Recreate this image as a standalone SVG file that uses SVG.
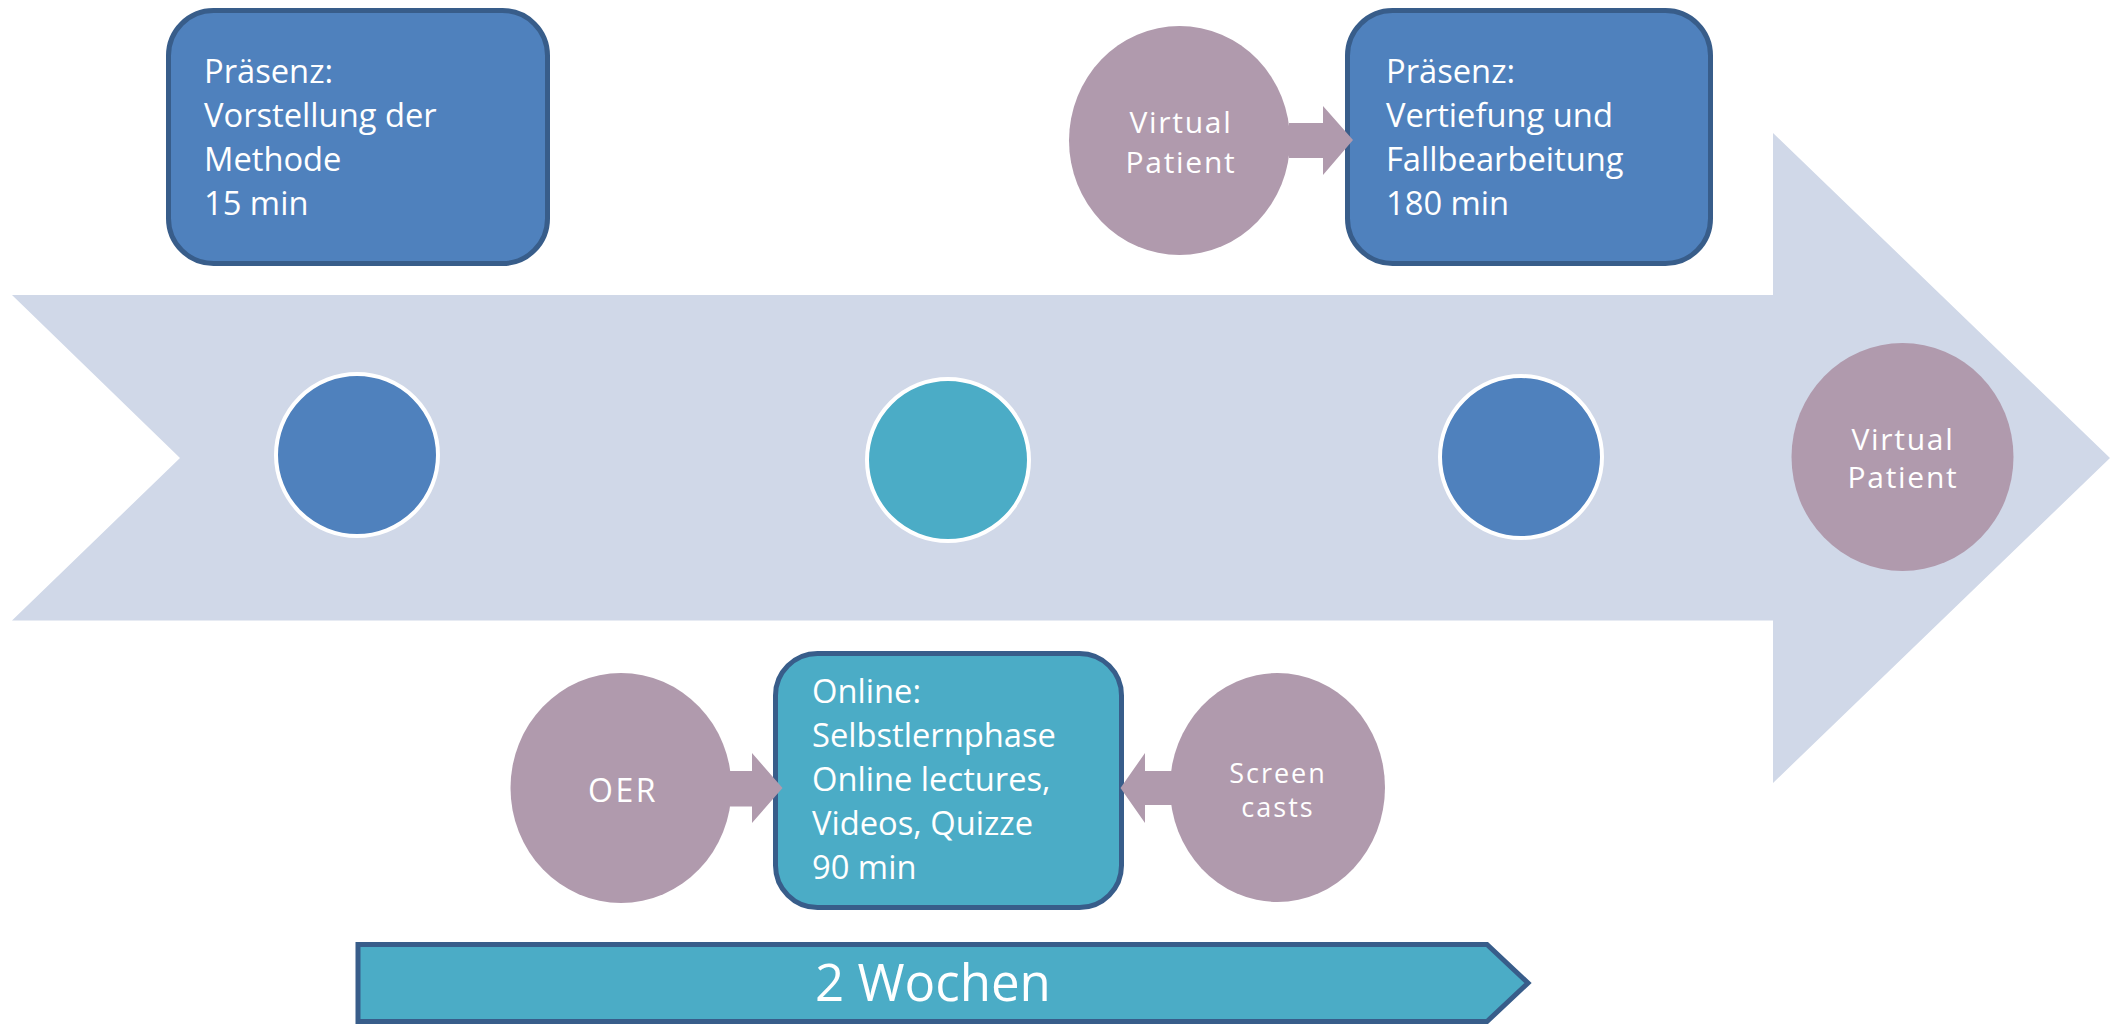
<svg xmlns="http://www.w3.org/2000/svg" width="2125" height="1024" viewBox="0 0 2125 1024">
<style>
.box{fill:#4f81bd;stroke:#385d8a;stroke-width:5}
.tbox{fill:#4bacc6;stroke:#385d8a;stroke-width:5}
.dot{stroke:#ffffff;stroke-width:4}
.mauve{fill:#b09aad}
.bt{font-family:"Open Sans","Liberation Sans",sans-serif;font-size:32.7px;fill:#ffffff}
.ct{font-family:"Open Sans","Liberation Sans",sans-serif;font-weight:400;font-size:30px;fill:#ffffff;text-anchor:middle;letter-spacing:1.7px}
.big{font-family:"Open Sans","Liberation Sans",sans-serif;font-size:51px;fill:#ffffff;text-anchor:middle}
</style>
<rect width="2125" height="1024" fill="#ffffff"/>
<g id="timeline">
<polygon points="12,295 1773,295 1773,133 2110,458 1773,783 1773,620.5 12,620.5 180,458" fill="#d0d8e8"/>
</g>
<g id="phase1-dot"><circle class="dot" cx="357" cy="455" r="81" fill="#4f81bd"/></g>
<g id="phase2-dot"><circle class="dot" cx="948" cy="460" r="81" fill="#4bacc6"/></g>
<g id="phase3-dot"><circle class="dot" cx="1521" cy="457" r="81" fill="#4f81bd"/></g>
<g id="vp-right">
<ellipse class="mauve" cx="1902.5" cy="457" rx="111" ry="114"/>
<text class="ct" x="1903" y="450">Virtual</text>
<text class="ct" x="1903" y="488">Patient</text>
</g>
<g id="praesenz1">
<rect class="box" x="168.5" y="10.5" width="379" height="253" rx="45" ry="45"/>
<text class="bt" x="204" y="83">Präsenz:</text>
<text class="bt" x="204" y="127">Vorstellung der</text>
<text class="bt" x="204" y="171">Methode</text>
<text class="bt" x="204" y="215">15 min</text>
</g>
<g id="vp-top">
<ellipse class="mauve" cx="1179.5" cy="140.5" rx="110.5" ry="114.5"/>
<text class="ct" x="1181" y="133">Virtual</text>
<text class="ct" x="1181" y="173">Patient</text>
</g>
<g id="praesenz2">
<rect class="box" x="1347.5" y="10.5" width="363" height="253" rx="45" ry="45"/>
<text class="bt" x="1386" y="83">Präsenz:</text>
<text class="bt" x="1386" y="127">Vertiefung und</text>
<text class="bt" x="1386" y="171">Fallbearbeitung</text>
<text class="bt" x="1386" y="215">180 min</text>
</g>
<g id="oer">
<ellipse class="mauve" cx="621" cy="788" rx="110.5" ry="115"/>
<text class="ct" x="623" y="801.5" style="font-size:32px;letter-spacing:2.5px">OER</text>
</g>
<g id="online">
<rect class="tbox" x="775.5" y="653.5" width="346" height="254" rx="42" ry="42"/>
<text class="bt" x="812" y="703">Online:</text>
<text class="bt" x="812" y="747">Selbstlernphase</text>
<text class="bt" x="812" y="791">Online lectures,</text>
<text class="bt" x="812" y="835">Videos, Quizze</text>
<text class="bt" x="812" y="879">90 min</text>
</g>
<g id="screencasts">
<ellipse class="mauve" cx="1277.5" cy="787.5" rx="107.5" ry="114.5"/>
<text class="ct" x="1278" y="782.5" style="font-size:27px;letter-spacing:2px">Screen</text>
<text class="ct" x="1278" y="817" style="font-size:27px;letter-spacing:2px">casts</text>
</g>
<g id="connectors">
<polygon class="mauve" points="1289,123 1323,123 1323,106 1353,140 1323,175 1323,158 1289,158"/>
<polygon class="mauve" points="730,771 752,771 752,753 782.5,788 752,823 752,806.5 730,806.5"/>
<polygon class="mauve" points="1172,771 1145,771 1145,753 1120.5,788 1145,823 1145,805 1172,805"/>
</g>
<g id="duration">
<polygon points="358,944.5 1487,944.5 1528,983 1487,1021.5 358,1021.5" fill="#4bacc6" stroke="#385d8a" stroke-width="5" stroke-linejoin="miter"/>
<text class="big" x="933" y="1001">2 Wochen</text>
</g>
</svg>
